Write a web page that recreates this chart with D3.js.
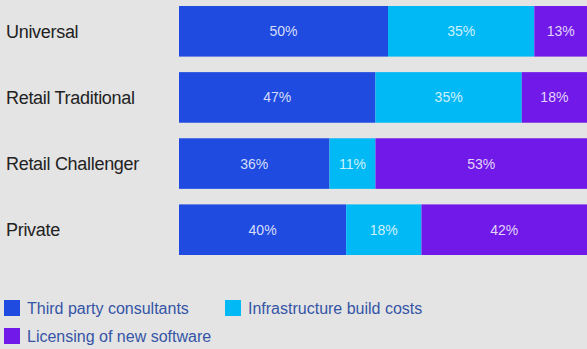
<!DOCTYPE html>
<html>
<head>
<meta charset="utf-8">
<script src="https://cdn.jsdelivr.net/npm/d3@7"></script>
<style>
  html, body { margin: 0; padding: 0; background: #e4e4e4; overflow: hidden; }
  svg { display: block; }
</style>
</head>
<body>
<svg id="chart" width="587" height="349"></svg>
<script>
// Bank types and spend split (percent of total)
const categories = ["Universal", "Retail Traditional", "Retail Challenger", "Private"];
const thirdParty = [50, 47, 36, 40];
const infrastructure = [35, 35, 11, 18];
const licensing = [13, 18, 53, 42];

const seriesNames = ["Third party consultants", "Infrastructure build costs", "Licensing of new software"];
const seriesColors = ["#1f4be1", "#00b9f5", "#7019e8"];

const rows = categories.map((c, i) => ({
  category: c,
  s0: thirdParty[i],
  s1: infrastructure[i],
  s2: licensing[i]
}));

const svg = d3.select("#chart");
const W = 587, H = 349;

svg.append("rect").attr("width", W).attr("height", H).attr("fill", "#e4e4e4");

const x = d3.scaleLinear().domain([0, 100]).range([179, 597]);
const y = d3.scaleBand().domain(categories).range([6, 255]).paddingInner(0.235).paddingOuter(0);

const stack = d3.stack().keys(["s0", "s1", "s2"]);
const layers = stack(rows);

const g = svg.append("g");

layers.forEach((layer, li) => {
  const lg = g.append("g");
  lg.selectAll("rect")
    .data(layer)
    .join("rect")
    .attr("x", d => x(d[0]))
    .attr("y", d => y(d.data.category))
    .attr("width", d => x(d[1]) - x(d[0]))
    .attr("height", y.bandwidth())
    .attr("fill", seriesColors[li]);

  lg.selectAll("text")
    .data(layer)
    .join("text")
    .attr("x", d => (x(d[0]) + Math.min(x(d[1]), W)) / 2)
    .attr("y", d => y(d.data.category) + y.bandwidth() / 2)
    .attr("dy", "0.36em")
    .attr("text-anchor", "middle")
    .attr("font-family", "'Liberation Sans', Arial, sans-serif")
    .attr("font-size", 14)
    .attr("fill", "rgba(255,255,255,0.82)")
    .text(d => (d[1] - d[0]) + "%");
});

// Category labels on the left
svg.append("g")
  .selectAll("text")
  .data(categories)
  .join("text")
  .attr("x", 6)
  .attr("y", d => y(d) + y.bandwidth() / 2)
  .attr("dy", "0.36em")
  .attr("font-family", "'Liberation Sans', Arial, sans-serif")
  .attr("font-size", 18)
  .attr("letter-spacing", "-0.3px")
  .attr("fill", "#222222")
  .text(d => d);

// Legend
const legendPos = [
  { x: 4, y: 300 },
  { x: 225, y: 300 },
  { x: 4, y: 328 }
];
const legend = svg.append("g")
  .selectAll("g")
  .data(seriesNames)
  .join("g")
  .attr("transform", (d, i) => `translate(${legendPos[i].x},${legendPos[i].y})`);

legend.append("rect")
  .attr("width", 16)
  .attr("height", 16)
  .attr("fill", (d, i) => seriesColors[i]);

legend.append("text")
  .attr("x", 23)
  .attr("y", 8)
  .attr("dy", "0.36em")
  .attr("font-family", "'Liberation Sans', Arial, sans-serif")
  .attr("font-size", 16)
  .attr("fill", "#3454a6")
  .text(d => d);
</script>
</body>
</html>
